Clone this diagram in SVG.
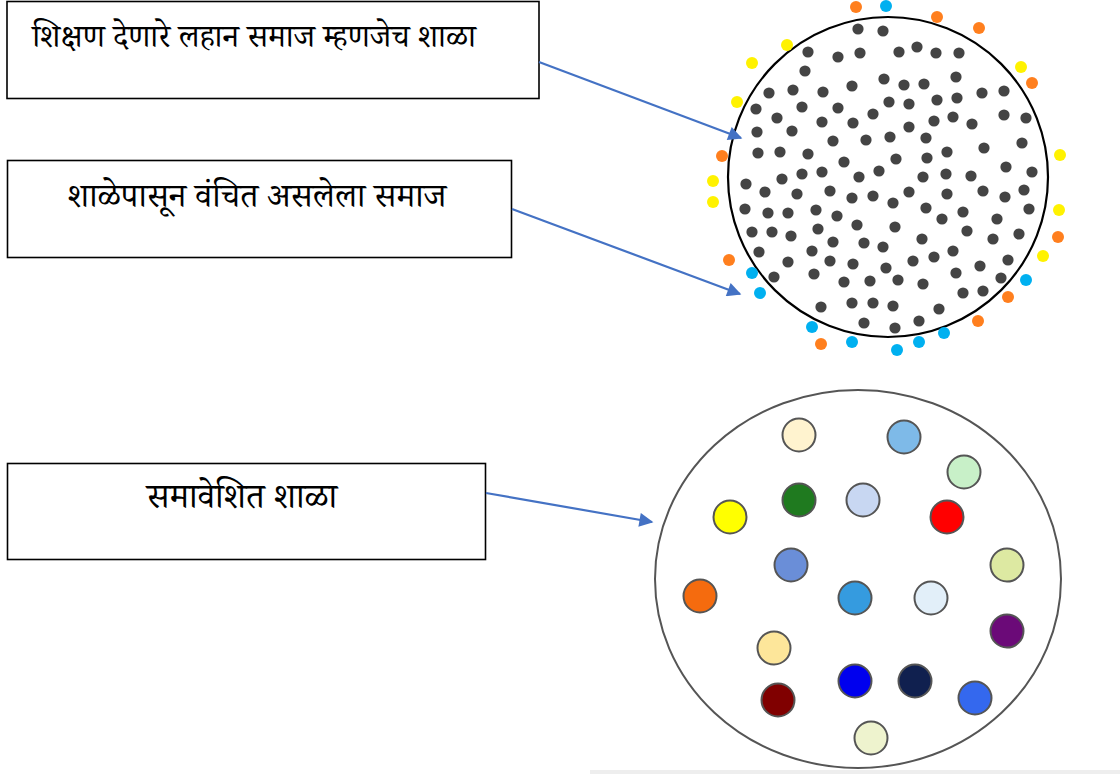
<svg xmlns="http://www.w3.org/2000/svg" width="1120" height="774" viewBox="0 0 1120 774">
<style>
.box{fill:#fff;stroke:#000;stroke-width:1.6}
.lbl{font-family:"Noto Serif Devanagari","Lohit Devanagari","Noto Sans Devanagari","Mangal","Kokila",serif;font-size:32px;fill:#000}
.conn{stroke:#4472C4;stroke-width:2.2;fill:none}
.d{fill:#444}
.o{fill:#FF7F1E}
.b{fill:#00B0F0}
.y{fill:#FFF200}
.m{stroke:#555;stroke-width:2}
</style>
<defs>
<marker id="ahb" viewBox="0 0 10 10" refX="9" refY="5" markerWidth="18" markerHeight="14" markerUnits="userSpaceOnUse" orient="auto"><path d="M0,0 L10,5 L0,10 z" fill="#4472C4"/></marker>
</defs>
<rect width="1120" height="774" fill="#fff"/>
<rect x="590" y="770" width="530" height="4" fill="#eeeeee"/>

<g id="node-school-society">
<rect class="box" x="7" y="1.5" width="532" height="97"/>
<text class="lbl" x="254" y="47" text-anchor="middle">शिक्षण देणारे लहान समाज म्हणजेच शाळा</text>
</g>
<g id="node-deprived-society">
<rect class="box" x="7.5" y="160.5" width="504" height="97"/>
<text class="lbl" x="257" y="207" text-anchor="middle" style="font-size:34px">शाळेपासून वंचित असलेला समाज</text>
</g>
<g id="node-inclusive-school">
<rect class="box" x="7.5" y="463.5" width="478" height="96"/>
<text class="lbl" x="242" y="508" text-anchor="middle" style="font-size:35px">समावेशित शाळा</text>
</g>

<g id="circle-exclusive">
<circle cx="888" cy="177" r="160" fill="#fff" stroke="#000" stroke-width="2.2"/>
<g class="d">
<circle cx="858" cy="29" r="5.6"/><circle cx="883" cy="31" r="5.6"/><circle cx="808" cy="52" r="5.6"/><circle cx="838" cy="57" r="5.6"/><circle cx="860" cy="53" r="5.6"/><circle cx="899" cy="52" r="5.6"/><circle cx="805" cy="71" r="5.6"/><circle cx="852" cy="86" r="5.6"/><circle cx="884" cy="79" r="5.6"/><circle cx="769" cy="93" r="5.6"/><circle cx="793" cy="90" r="5.6"/><circle cx="823" cy="92" r="5.6"/><circle cx="756" cy="109" r="5.6"/><circle cx="802" cy="107" r="5.6"/><circle cx="838" cy="108" r="5.6"/><circle cx="873" cy="114" r="5.6"/><circle cx="889" cy="102" r="5.6"/><circle cx="777" cy="118" r="5.6"/><circle cx="822" cy="122" r="5.6"/><circle cx="853" cy="123" r="5.6"/><circle cx="757" cy="132" r="5.6"/><circle cx="792" cy="131" r="5.6"/><circle cx="833" cy="141" r="5.6"/><circle cx="866" cy="140" r="5.6"/><circle cx="890" cy="137" r="5.6"/><circle cx="758" cy="153" r="5.6"/><circle cx="780" cy="152" r="5.6"/><circle cx="808" cy="154" r="5.6"/><circle cx="844" cy="162" r="5.6"/><circle cx="879" cy="171" r="5.6"/><circle cx="896" cy="159" r="5.6"/><circle cx="782" cy="179" r="5.6"/><circle cx="802" cy="174" r="5.6"/><circle cx="822" cy="172" r="5.6"/><circle cx="859" cy="177" r="5.6"/><circle cx="746" cy="184" r="5.6"/>
<circle cx="917" cy="47" r="5.6"/><circle cx="936" cy="53" r="5.6"/><circle cx="959" cy="53" r="5.6"/><circle cx="904" cy="85" r="5.6"/><circle cx="924" cy="84" r="5.6"/><circle cx="956" cy="77" r="5.6"/><circle cx="909" cy="104" r="5.6"/><circle cx="937" cy="100" r="5.6"/><circle cx="957" cy="98" r="5.6"/><circle cx="982" cy="93" r="5.6"/><circle cx="1004" cy="91" r="5.6"/><circle cx="934" cy="121" r="5.6"/><circle cx="953" cy="117" r="5.6"/><circle cx="972" cy="124" r="5.6"/><circle cx="1004" cy="115" r="5.6"/><circle cx="1026" cy="118" r="5.6"/><circle cx="909" cy="127" r="5.6"/><circle cx="926" cy="138" r="5.6"/><circle cx="947" cy="152" r="5.6"/><circle cx="984" cy="148" r="5.6"/><circle cx="1022" cy="143" r="5.6"/><circle cx="927" cy="158" r="5.6"/><circle cx="1006" cy="167" r="5.6"/><circle cx="1032" cy="172" r="5.6"/><circle cx="923" cy="177" r="5.6"/><circle cx="946" cy="174" r="5.6"/><circle cx="971" cy="176" r="5.6"/>
<circle cx="765" cy="192" r="5.6"/><circle cx="797" cy="194" r="5.6"/><circle cx="830" cy="191" r="5.6"/><circle cx="852" cy="198" r="5.6"/><circle cx="873" cy="196" r="5.6"/><circle cx="893" cy="203" r="5.6"/><circle cx="745" cy="209" r="5.6"/><circle cx="768" cy="213" r="5.6"/><circle cx="788" cy="213" r="5.6"/><circle cx="816" cy="210" r="5.6"/><circle cx="837" cy="216" r="5.6"/><circle cx="857" cy="225" r="5.6"/><circle cx="895" cy="227" r="5.6"/><circle cx="752" cy="232" r="5.6"/><circle cx="772" cy="232" r="5.6"/><circle cx="791" cy="236" r="5.6"/><circle cx="818" cy="229" r="5.6"/><circle cx="833" cy="242" r="5.6"/><circle cx="864" cy="243" r="5.6"/><circle cx="883" cy="247" r="5.6"/><circle cx="759" cy="252" r="5.6"/><circle cx="812" cy="251" r="5.6"/><circle cx="830" cy="261" r="5.6"/><circle cx="853" cy="264" r="5.6"/><circle cx="788" cy="262" r="5.6"/><circle cx="886" cy="268" r="5.6"/><circle cx="774" cy="277" r="5.6"/><circle cx="814" cy="274" r="5.6"/><circle cx="844" cy="282" r="5.6"/><circle cx="870" cy="281" r="5.6"/><circle cx="898" cy="280" r="5.6"/><circle cx="852" cy="303" r="5.6"/><circle cx="873" cy="303" r="5.6"/><circle cx="893" cy="306" r="5.6"/><circle cx="821" cy="307" r="5.6"/><circle cx="864" cy="323" r="5.6"/><circle cx="895" cy="328" r="5.6"/>
<circle cx="909" cy="192" r="5.6"/><circle cx="947" cy="194" r="5.6"/><circle cx="983" cy="191" r="5.6"/><circle cx="1005" cy="197" r="5.6"/><circle cx="1024" cy="190" r="5.6"/><circle cx="926" cy="208" r="5.6"/><circle cx="963" cy="212" r="5.6"/><circle cx="1029" cy="209" r="5.6"/><circle cx="942" cy="219" r="5.6"/><circle cx="997" cy="219" r="5.6"/><circle cx="967" cy="231" r="5.6"/><circle cx="922" cy="239" r="5.6"/><circle cx="993" cy="239" r="5.6"/><circle cx="1019" cy="234" r="5.6"/><circle cx="953" cy="251" r="5.6"/><circle cx="934" cy="257" r="5.6"/><circle cx="913" cy="261" r="5.6"/><circle cx="1008" cy="260" r="5.6"/><circle cx="980" cy="266" r="5.6"/><circle cx="956" cy="273" r="5.6"/><circle cx="923" cy="284" r="5.6"/><circle cx="1001" cy="278" r="5.6"/><circle cx="963" cy="293" r="5.6"/><circle cx="983" cy="291" r="5.6"/><circle cx="939" cy="309" r="5.6"/><circle cx="919" cy="321" r="5.6"/>
</g>
<g class="o">
<circle cx="856" cy="7" r="6"/><circle cx="937" cy="17" r="6"/><circle cx="979" cy="28" r="6"/><circle cx="1032" cy="83" r="6"/><circle cx="722" cy="156" r="6"/><circle cx="729" cy="260" r="6"/><circle cx="821" cy="344" r="6"/><circle cx="1058" cy="237" r="6"/><circle cx="1008" cy="297" r="6"/><circle cx="978" cy="321" r="6"/>
</g>
<g class="b">
<circle cx="886" cy="6" r="6"/><circle cx="752" cy="273" r="6"/><circle cx="760" cy="293" r="6"/><circle cx="812" cy="327" r="6"/><circle cx="852" cy="342" r="6"/><circle cx="897" cy="350" r="6"/><circle cx="1026" cy="280" r="6"/><circle cx="944" cy="333" r="6"/><circle cx="919" cy="342" r="6"/>
</g>
<g class="y">
<circle cx="787" cy="45" r="6"/><circle cx="752" cy="63" r="6"/><circle cx="737" cy="102" r="6"/><circle cx="713" cy="181" r="6"/><circle cx="713" cy="202" r="6"/><circle cx="1021" cy="67" r="6"/><circle cx="1060" cy="155" r="6"/><circle cx="1059" cy="210" r="6"/><circle cx="1043" cy="256" r="6"/>
</g>
</g>

<g id="circle-inclusive">
<ellipse cx="858" cy="579" rx="203" ry="189" fill="#fff" stroke="#555" stroke-width="2"/>
<circle class="m" cx="799" cy="435" r="16.5" fill="#FFF3CF"/>
<circle class="m" cx="904" cy="437" r="16.5" fill="#7EBAE8"/>
<circle class="m" cx="964" cy="472" r="16.5" fill="#C8F0C8"/>
<circle class="m" cx="799" cy="500" r="16.5" fill="#1F7A1F"/>
<circle class="m" cx="863" cy="500" r="16.5" fill="#C8D7F2"/>
<circle class="m" cx="730" cy="517" r="16.5" fill="#FFFF00"/>
<circle class="m" cx="947" cy="517" r="16.5" fill="#FF0000"/>
<circle class="m" cx="791" cy="565" r="16.5" fill="#6A8ED8"/>
<circle class="m" cx="1007" cy="565" r="16.5" fill="#DDE9A2"/>
<circle class="m" cx="700" cy="596" r="16.5" fill="#F56B0E"/>
<circle class="m" cx="855" cy="598" r="16.5" fill="#359BDF"/>
<circle class="m" cx="931" cy="598" r="16.5" fill="#E2EFF9"/>
<circle class="m" cx="1007" cy="631" r="16.5" fill="#6B0A78"/>
<circle class="m" cx="774" cy="648" r="16.5" fill="#FDE69A"/>
<circle class="m" cx="855" cy="681" r="16.5" fill="#0000EE"/>
<circle class="m" cx="915" cy="681" r="16.5" fill="#10204F"/>
<circle class="m" cx="975" cy="698" r="16.5" fill="#3468EE"/>
<circle class="m" cx="778" cy="700" r="16.5" fill="#800000"/>
<circle class="m" cx="871" cy="738" r="16.5" fill="#EEF3CE"/>
</g>

<g id="connectors">
<line class="conn" x1="539" y1="62" x2="741" y2="138" marker-end="url(#ahb)"/>
<line class="conn" x1="512" y1="209" x2="740" y2="294" marker-end="url(#ahb)"/>
<line class="conn" x1="486" y1="493" x2="652" y2="522" marker-end="url(#ahb)"/>
</g>
</svg>
